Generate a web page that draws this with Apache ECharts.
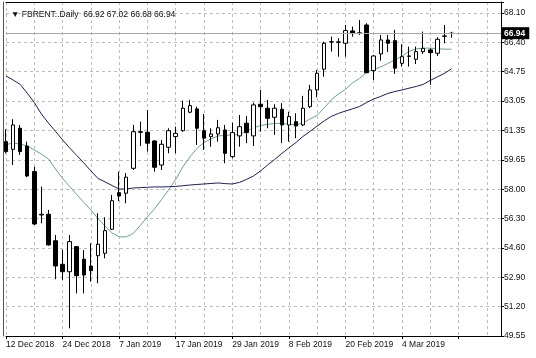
<!DOCTYPE html>
<html>
<head>
<meta charset="utf-8">
<script src="https://cdn.jsdelivr.net/npm/echarts@6/dist/echarts.min.js"></script>
<style>
html,body{margin:0;padding:0;background:#fff;}
#chart{width:536px;height:358px;}
</style>
</head>
<body>
<div id="chart"></div>
<script>
// ---- data ----
const dates = [
 '12 Dec 2018','13 Dec 2018','14 Dec 2018','17 Dec 2018','18 Dec 2018','19 Dec 2018','20 Dec 2018','21 Dec 2018',
 '24 Dec 2018','26 Dec 2018','27 Dec 2018','28 Dec 2018','31 Dec 2018','2 Jan 2019','3 Jan 2019','4 Jan 2019',
 '7 Jan 2019','8 Jan 2019','9 Jan 2019','10 Jan 2019','11 Jan 2019','14 Jan 2019','15 Jan 2019','16 Jan 2019',
 '17 Jan 2019','18 Jan 2019','21 Jan 2019','22 Jan 2019','23 Jan 2019','24 Jan 2019','25 Jan 2019','28 Jan 2019',
 '29 Jan 2019','30 Jan 2019','31 Jan 2019','1 Feb 2019','4 Feb 2019','5 Feb 2019','6 Feb 2019','7 Feb 2019',
 '8 Feb 2019','11 Feb 2019','12 Feb 2019','13 Feb 2019','14 Feb 2019','15 Feb 2019','18 Feb 2019','19 Feb 2019',
 '20 Feb 2019','21 Feb 2019','22 Feb 2019','25 Feb 2019','26 Feb 2019','27 Feb 2019','28 Feb 2019','1 Mar 2019',
 '4 Mar 2019','5 Mar 2019','6 Mar 2019','7 Mar 2019','8 Mar 2019','11 Mar 2019','12 Mar 2019','13 Mar 2019'
];
const opens = [60.71,60.27,61.48,60.46,58.99,56.50,56.54,55.02,53.67,53.24,54.68,53.96,53.57,54.16,54.30,55.68,
 57.78,57.75,59.18,61.28,61.25,60.75,59.37,60.39,61.00,61.34,62.40,62.59,61.34,61.00,61.15,61.38,
 59.85,61.04,61.77,61.04,62.86,62.63,62.11,62.57,61.67,61.86,61.67,62.72,63.68,64.87,66.43,66.44,
 66.36,67.07,66.93,67.41,64.79,65.75,66.55,66.51,65.21,65.61,65.44,65.88,65.98,65.79,66.76,66.92];
const highs = [61.42,62.00,61.67,60.71,59.27,58.13,56.79,55.35,54.50,55.35,54.72,54.49,54.87,56.60,56.37,57.65,
 58.99,58.90,61.67,61.86,62.53,60.80,60.81,61.48,61.57,63.07,63.11,62.72,62.30,61.48,61.96,61.67,
 61.80,62.24,62.19,62.95,63.68,63.11,62.86,62.92,62.43,62.34,63.34,63.97,64.83,66.45,66.74,66.65,
 67.41,67.32,67.70,67.51,65.69,66.84,66.84,67.13,66.30,66.17,66.17,67.03,66.07,66.71,67.41,67.02];
const lows = [60.04,59.37,59.95,58.67,55.93,56.02,54.74,52.81,52.77,49.99,52.00,52.00,52.67,52.58,54.01,55.64,
 57.30,57.17,59.08,60.46,60.14,58.99,59.08,60.04,60.04,61.28,62.34,60.52,60.23,60.42,60.71,59.47,
 59.76,60.42,60.62,60.46,61.28,61.48,61.10,60.62,60.71,60.91,61.60,62.63,63.26,64.44,65.88,65.59,
 65.59,66.74,66.84,64.64,64.25,65.36,65.85,64.60,65.02,65.02,65.17,65.75,63.97,65.63,66.36,66.68];
const closes = [60.14,61.67,60.14,58.74,55.98,56.54,54.78,53.57,53.24,54.97,53.01,53.05,53.30,54.82,55.60,57.32,
 57.59,58.67,61.28,61.25,60.62,59.24,60.56,61.34,61.19,62.63,62.78,61.48,60.91,61.15,61.51,60.04,
 61.23,61.57,61.23,62.82,62.72,62.05,62.63,61.67,62.15,61.61,62.63,63.68,64.64,66.36,66.45,66.42,
 67.09,66.94,66.96,64.67,65.63,66.55,66.36,64.93,65.59,65.63,65.88,66.07,65.82,66.59,66.78,66.94];
const maFast = [60.55,60.62,60.58,60.46,60.23,60.00,59.72,59.14,58.60,58.14,57.68,57.22,56.79,56.30,55.87,55.47,
 55.25,55.24,55.44,55.90,56.39,56.85,57.39,57.94,58.54,59.26,59.83,60.32,60.66,60.87,61.04,61.07,
 61.10,61.12,61.30,61.50,61.64,61.70,61.76,61.76,61.71,61.68,61.78,62.01,62.22,62.65,63.11,63.45,
 63.71,64.08,64.34,64.69,64.86,65.00,65.20,65.40,65.63,65.89,66.04,66.08,66.08,66.05,66.02,66.02];
const maSlow = [64.48,64.25,64.00,63.50,62.96,62.30,61.78,61.30,60.81,60.35,59.92,59.49,59.03,58.60,58.40,58.19,
 57.99,57.99,58.05,58.07,58.09,58.11,58.11,58.12,58.14,58.18,58.22,58.25,58.28,58.31,58.34,58.30,
 58.28,58.37,58.54,58.74,59.03,59.37,59.69,60.03,60.35,60.66,61.01,61.30,61.61,61.90,62.16,62.33,
 62.47,62.59,62.73,62.96,63.16,63.31,63.48,63.59,63.68,63.78,63.88,64.00,64.23,64.43,64.63,64.89];
const yTickLabels = ['49.55','51.20','52.90','54.60','56.30','58.00','59.65','61.35','63.05','64.75','66.40','68.10'];
const yTickValues = [49.55,51.20,52.90,54.60,56.30,58.00,59.65,61.35,63.05,64.75,66.40,68.10];
const headerText = '\u25BC FBRENT..Daily  66.92 67.02 66.68 66.94';
const emptySlots = 7;   // right-hand shift area after the last bar

// ---- build ----
const categories = dates.concat(new Array(emptySlots).fill(''));
const candles = dates.map((d, i) => [opens[i], closes[i], lows[i], highs[i]]);
const lastClose = closes[closes.length - 1];

const priceMin = yTickValues[0];
const priceMax = 68.73;
const tickStep = (yTickValues[yTickValues.length - 1] - yTickValues[0]) / (yTickValues.length - 1);
const idxMax = (priceMax - priceMin) / tickStep;

const FONT = 'Liberation Sans';
const chart = echarts.init(document.getElementById('chart'), null, {renderer: 'canvas'});
chart.setOption({
  animation: false,
  backgroundColor: '#ffffff',
  textStyle: {fontFamily: FONT},
  title: {
    text: headerText, left: 6, top: 5,
    textStyle: {fontSize: 8.5, fontWeight: 'normal', color: '#111', fontFamily: FONT}
  },
  grid: {left: 6, right: 35, top: 2, bottom: 22, show: false, containLabel: false, outerBoundsMode: 'none'},
  xAxis: [{
    type: 'category', data: categories, boundaryGap: false,
    axisLine: {show: true, onZero: false, lineStyle: {color: '#000', width: 1}},
    axisTick: {show: true, interval: 7, length: 3, lineStyle: {color: '#000'}},
    axisLabel: {show: true, interval: 7, align: 'left', margin: 4, fontSize: 8.5, color: '#111', fontFamily: FONT},
    splitLine: {show: true, interval: 3, lineStyle: {color: '#bdbdbd', type: [3, 3], width: 1}}
  }, {
    type: 'category', data: categories, boundaryGap: false, position: 'top',
    axisLine: {show: true, onZero: false, lineStyle: {color: '#000', width: 1}},
    axisTick: {show: false}, axisLabel: {show: false}, splitLine: {show: false}
  }],
  yAxis: [{
    type: 'value', min: priceMin, max: priceMax, position: 'left', offset: 2.5, scale: true,
    axisLine: {show: true, onZero: false, lineStyle: {color: '#555', width: 1}},
    axisTick: {show: false}, axisLabel: {show: false}, splitLine: {show: false}
  }, {
    type: 'value', min: 0, max: idxMax, interval: 1, position: 'right',
    axisLine: {show: true, onZero: false, lineStyle: {color: '#000', width: 1}},
    axisTick: {show: true, length: 3, lineStyle: {color: '#000'}},
    axisLabel: {
      show: true, margin: 3, fontSize: 8.5, color: '#111', fontFamily: FONT,
      formatter: function (v) {
        const r = Math.round(v);
        return Math.abs(v - r) < 1e-6 && yTickLabels[r] ? yTickLabels[r] : '';
      }
    },
    splitLine: {show: true, lineStyle: {color: '#bdbdbd', type: [3, 3], width: 1}}
  }],
  series: [{
    type: 'candlestick', name: 'FBRENT', xAxisIndex: 0, yAxisIndex: 0,
    data: candles, barWidth: 4,
    itemStyle: {color: '#ffffff', color0: '#000000', borderColor: '#000000', borderColor0: '#000000', borderWidth: 1},
    markLine: {
      silent: true, symbol: ['none', 'none'], animation: false,
      data: [{yAxis: lastClose}],
      lineStyle: {color: '#a9a9a9', type: 'solid', width: 1},
      label: {
        show: true, position: 'end', distance: 0, formatter: lastClose.toFixed(2),
        backgroundColor: '#000', color: '#fff', fontSize: 8.5, fontFamily: FONT, fontWeight: 'bold',
        padding: [2, 4, 1, 3]
      }
    },
    z: 3
  }, {
    type: 'line', name: 'MA fast', xAxisIndex: 0, yAxisIndex: 0, data: maFast,
    showSymbol: false, symbol: 'none', smooth: false,
    lineStyle: {color: '#6f9e96', width: 1}, z: 2
  }, {
    type: 'line', name: 'MA slow', xAxisIndex: 0, yAxisIndex: 0, data: maSlow,
    showSymbol: false, symbol: 'none', smooth: false,
    lineStyle: {color: '#20204f', width: 1}, z: 2
  }]
});
</script>
</body>
</html>
